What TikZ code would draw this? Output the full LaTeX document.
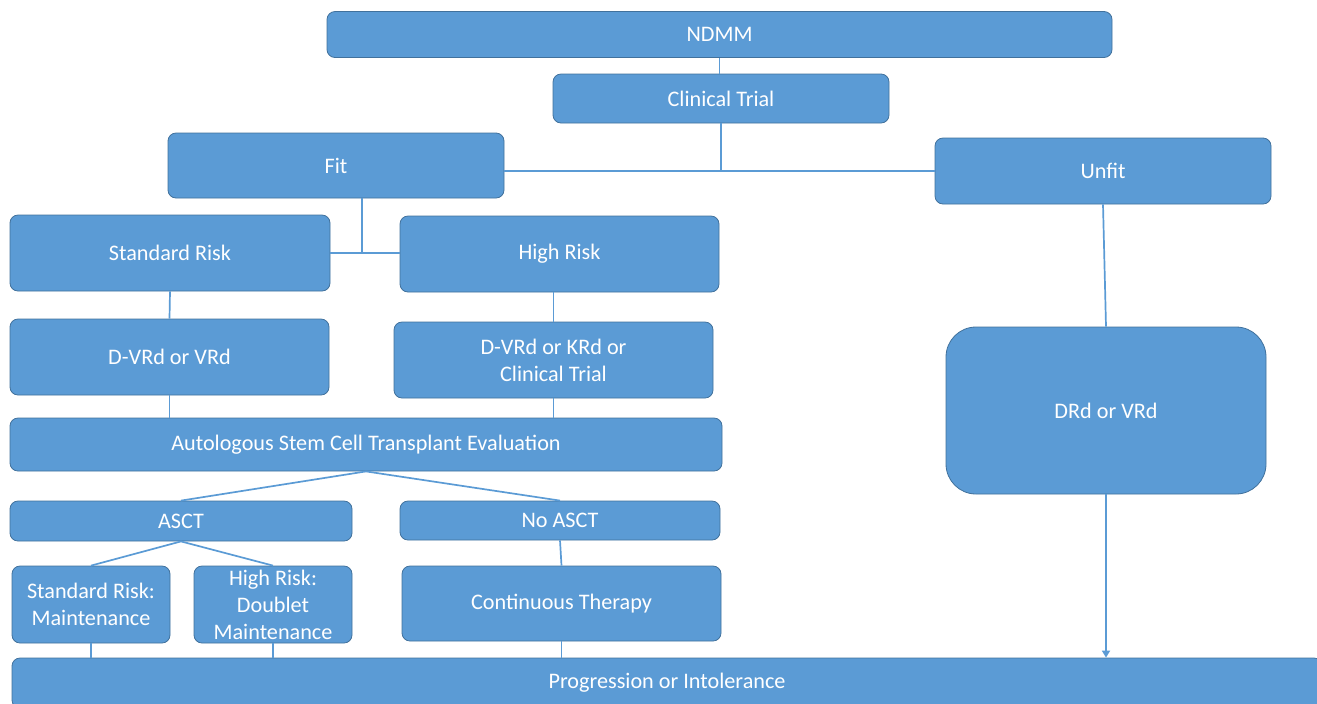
\documentclass[tikz,border=0pt]{standalone}
\usepackage{fontspec}
\setmainfont{Carlito}
\usetikzlibrary{positioning, arrows.meta, calc}
\definecolor{boxfill}{HTML}{5B9BD5}
\definecolor{boxedge}{HTML}{41719C}
\definecolor{linkblue}{HTML}{5B9BD5}

\begin{document}
\begin{tikzpicture}
    [
        x=0.5pt, y=-0.5pt, % one unit = one pixel of the layout
        box/.style={draw=boxedge, fill=boxfill, rounded corners=4pt, text=white, align=center, inner sep=1pt, font=\fontsize{11.1}{13.5}\selectfont},
        link/.style={draw=linkblue, line width=0.85pt}
    ]
        \useasboundingbox (0,0) rectangle (1317,703);
        \clip (0,0) rectangle (1317,703);
        % =========================================================================
        % NODES
        % =========================================================================
        % --- Row 1 ---
        \node [box, minimum width=392.5pt, minimum height=23pt] (ndmm) at (719.5,34.5) {NDMM};
        \node [box, minimum width=168pt, minimum height=24.5pt] (trial) at (721,98.5) {Clinical Trial};
        % --- Row 2 ---
        \node [box, minimum width=168pt, minimum height=32.5pt] (fit) at (336,165.5) {Fit};
        \node [box, minimum width=168pt, minimum height=33pt] (unfit) at (1103,171) {Unfit};
        % --- Row 3 ---
        \node [box, minimum width=160pt, minimum height=38pt] (stdrisk) at (170,253) {Standard Risk};
        \node [box, minimum width=159.5pt, minimum height=38pt] (highrisk) at (559.5,254) {High Risk};
        % --- Row 4 ---
        \node [box, minimum width=159.5pt, minimum height=38pt] (stdinduct) at (169.5,357) {D-VRd or VRd};
        \node [box, minimum width=159.5pt, minimum height=38pt] (highinduct) at (553.5,360) {D-VRd or KRd or\\Clinical Trial};
        \node [box, rounded corners=15pt, minimum width=160pt, minimum height=83.5pt] (unfitinduct) at (1106,410.5) {DRd or VRd};
        % --- Row 5 ---
        \node [box, minimum width=356pt, minimum height=26.5pt] (evaluation) at (366,444.5) {Autologous Stem Cell Transplant Evaluation};
        % --- Row 6 ---
        \node [box, minimum width=171pt, minimum height=20pt] (asct) at (181,521) {ASCT};
        \node [box, minimum width=160pt, minimum height=19.5pt] (noasct) at (560,520.5) {No ASCT};
        % --- Row 7 ---
        \node [box, minimum width=79pt, minimum height=38.5pt] (stdmaint) at (91,604.5) {Standard Risk:\\Maintenance};
        \node [box, minimum width=79pt, minimum height=38.5pt] (highmaint) at (273,604.5) {High Risk:\\Doublet\\Maintenance};
        \node [box, minimum width=159.5pt, minimum height=37.5pt] (continuous) at (561.5,603.5) {Continuous Therapy};
        % --- Row 8 ---
        \node [box, minimum width=655pt, minimum height=25pt] (progression) at (667,683) {Progression or Intolerance};

        % =========================================================================
        % PATHS
        % =========================================================================
        % --- TOP ---
        \draw [link] (ndmm.south) -- (ndmm.south |- trial.north);
        \draw [link] (trial.south) -- (trial.south |- unfit.west);
        \draw [link] (fit.east |- unfit.west) -- (unfit.west);
        % --- FIT ---
        \coordinate (fitdrop) at ($(fit.south)+(26,0)$);
        \draw [link] (fitdrop) -- (fitdrop |- stdrisk.east);
        \draw [link] (stdrisk.east) -- (stdrisk.east -| highrisk.west);
        \draw [link] (stdrisk.south) -- (stdinduct.north);
        \draw [link] (highinduct.north |- highrisk.south) -- (highinduct.north);
        \draw [link] (stdinduct.south) -- (stdinduct.south |- evaluation.north);
        \draw [link] (highinduct.south) -- (highinduct.south |- evaluation.north);
        \draw [link] (evaluation.south) -- (asct.north);
        \draw [link] (evaluation.south) -- (noasct.north);
        \draw [link] (asct.south) -- (stdmaint.north);
        \draw [link] (asct.south) -- (highmaint.north);
        \draw [link] (noasct.south) -- (continuous.north);
        \draw [link] (stdmaint.south) -- (stdmaint.south |- progression.north);
        \draw [link] (highmaint.south) -- (highmaint.south |- progression.north);
        \draw [link] (continuous.south) -- (continuous.south |- progression.north);
        % --- UNFIT ---
        \draw [link] (unfit.south) -- (unfitinduct.north);
        \draw [link, -{Triangle[width=4pt, length=3.5pt]}] (unfitinduct.south) -- (unfitinduct.south |- progression.north);

    \end{tikzpicture}
\end{document}
